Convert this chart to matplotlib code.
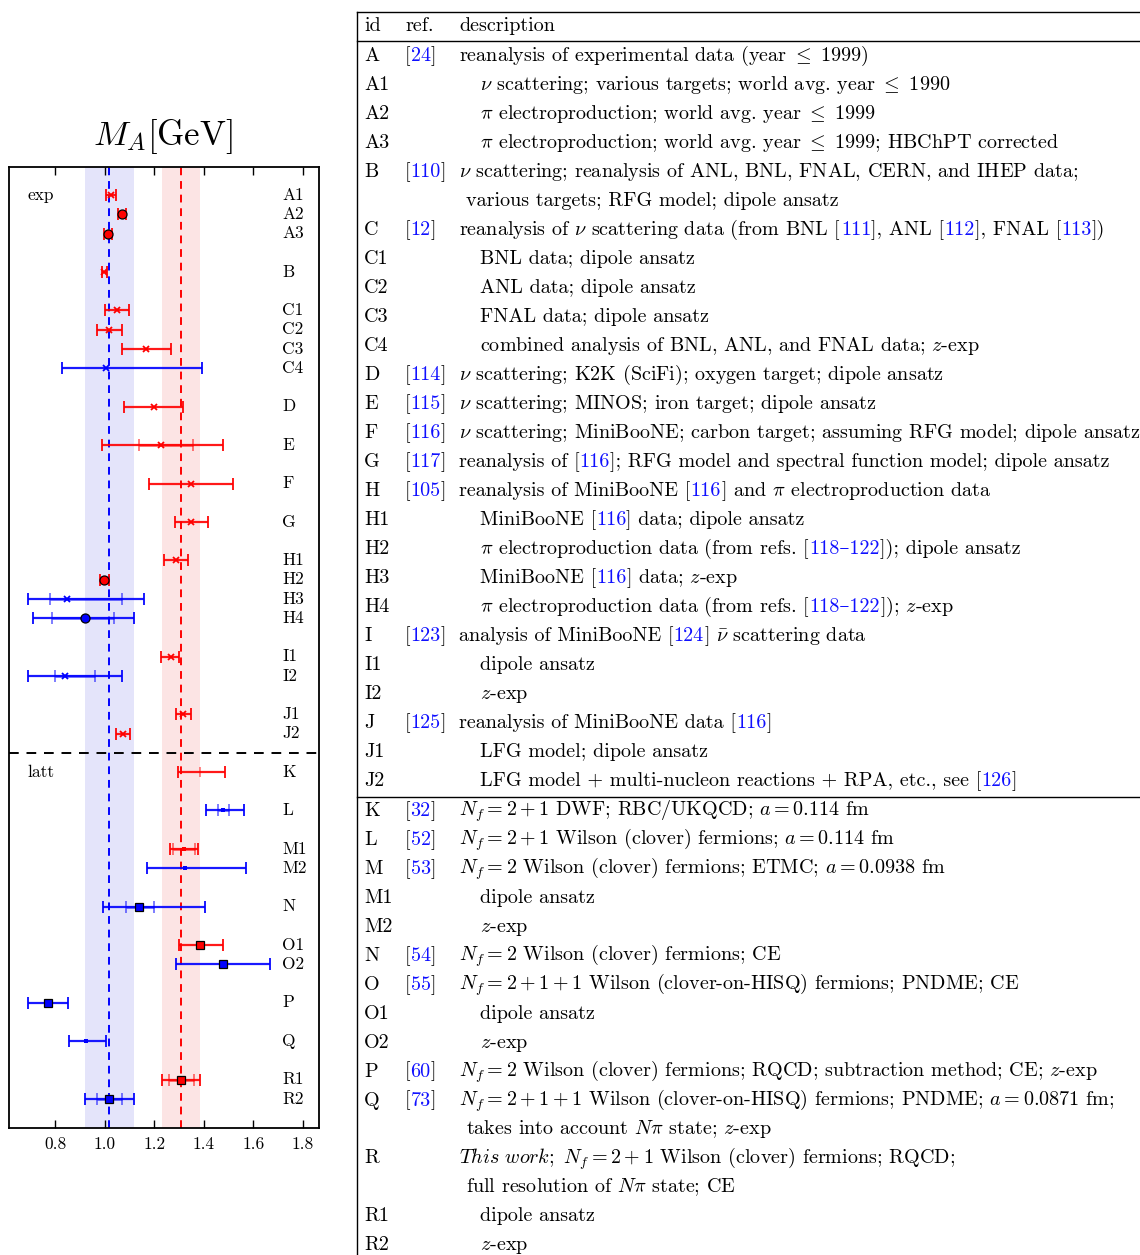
import re
import numpy as np
import matplotlib
matplotlib.use("Agg")
import matplotlib.pyplot as plt
from matplotlib.lines import Line2D

plt.rcParams['font.family'] = ['cmr10', 'DejaVu Serif']
plt.rcParams['mathtext.fontset'] = 'cm'
plt.rcParams['axes.formatter.use_mathtext'] = True

# ---------------- data (left panel) ----------------
pt_labels = ["A1", "A2", "A3", "B", "C1", "C2", "C3", "C4", "D", "E", "F", "G",
             "H1", "H2", "H3", "H4", "I1", "I2", "J1", "J2",
             "K", "L", "M1", "M2", "N", "O1", "O2", "P", "Q", "R1", "R2"]
pt_center = [1.026, 1.069, 1.014, 0.999, 1.049, 1.016, 1.166, 1.007, 1.197, 1.228, 1.347, 1.350,
             1.286, 0.997, 0.849, 0.919, 1.266, 0.839, 1.316, 1.074,
             1.385, 1.478, 1.319, 1.326, 1.138, 1.386, 1.477, 0.770, 0.923, 1.309, 1.017]
pt_lo = [1.005, 1.053, 0.998, 0.988, 1.000, 0.969, 1.070, 0.829, 1.078, 0.989, 1.178, 1.283,
         1.238, 0.980, 0.692, 0.711, 1.228, 0.692, 1.289, 1.047,
         1.297, 1.408, 1.262, 1.169, 0.991, 1.300, 1.288, 0.692, 0.854, 1.232, 0.922]
pt_hi = [1.047, 1.085, 1.030, 1.010, 1.097, 1.070, 1.269, 1.393, 1.316, 1.477, 1.516, 1.415,
         1.338, 1.017, 1.158, 1.119, 1.299, 1.070, 1.350, 1.103,
         1.484, 1.562, 1.378, 1.569, 1.404, 1.476, 1.666, 0.850, 1.004, 1.386, 1.118]
nan = np.nan
pt_stat_lo = [nan, nan, nan, nan, nan, nan, nan, nan, nan, 1.138, nan, nan,
              nan, nan, 0.778, 0.789, nan, 0.799, nan, nan,
              nan, 1.459, 1.277, nan, 1.086, nan, nan, nan, nan, 1.258, 0.969]
pt_stat_hi = [nan, nan, nan, nan, nan, nan, nan, nan, nan, 1.357, nan, nan,
              nan, nan, 1.070, 1.038, nan, 0.961, nan, nan,
              nan, 1.500, 1.364, nan, 1.200, nan, nan, nan, nan, 1.360, 1.069]
pt_color = ["r", "r", "r", "r", "r", "r", "r", "b", "r", "r", "r", "r",
            "r", "r", "b", "b", "r", "b", "r", "r",
            "r", "b", "r", "b", "b", "r", "b", "b", "b", "r", "b"]
pt_marker = ["x", "o", "o", "x", "x", "x", "x", "x", "x", "x", "x", "x",
             "x", "o", "x", "o", "x", "x", "x", "x",
             "|", ".", ".", ".", "s", "s", "s", "s", ".", "s", "s"]
exp_group_sizes = [3, 1, 4, 1, 1, 1, 1, 4, 2, 2]
latt_group_sizes = [1, 1, 2, 1, 2, 1, 1, 2]

band_red = (1.309, 1.232, 1.386)
band_blue = (1.017, 0.922, 1.118)
xticks = [0.8, 1.0, 1.2, 1.4, 1.6, 1.8]

# ---------------- data (table) ----------------
# text between << >> is a (blue) citation number
header = ["id", "ref.", "description"]
tab_ids = ["A", "A1", "A2", "A3", "B", "", "C", "C1", "C2", "C3", "C4", "D", "E", "F", "G",
           "H", "H1", "H2", "H3", "H4", "I", "I1", "I2", "J", "J1", "J2",
           "K", "L", "M", "M1", "M2", "N", "O", "O1", "O2", "P", "Q", "", "R", "", "R1", "R2"]
tab_refs = ["24", "", "", "", "110", "", "12", "", "", "", "", "114", "115", "116", "117",
            "105", "", "", "", "", "123", "", "", "125", "", "",
            "32", "52", "53", "", "", "54", "55", "", "", "60", "73", "", "", "", "", ""]
tab_desc = [
    r"reanalysis of experimental data (year$\ \leq\ $1999)",
    r"$\nu$ scattering; various targets; world avg. year$\ \leq\ $1990",
    r"$\pi$ electroproduction; world avg. year$\ \leq\ $1999",
    r"$\pi$ electroproduction; world avg. year$\ \leq\ $1999; HBChPT corrected",
    r"$\nu$ scattering; reanalysis of ANL, BNL, FNAL, CERN, and IHEP data;",
    r"various targets; RFG model; dipole ansatz",
    r"reanalysis of $\nu$ scattering data (from BNL [<<111>>], ANL [<<112>>], FNAL [<<113>>])",
    r"BNL data; dipole ansatz",
    r"ANL data; dipole ansatz",
    r"FNAL data; dipole ansatz",
    r"combined analysis of BNL, ANL, and FNAL data; $z$-exp",
    r"$\nu$ scattering; K2K (SciFi); oxygen target; dipole ansatz",
    r"$\nu$ scattering; MINOS; iron target; dipole ansatz",
    r"$\nu$ scattering; MiniBooNE; carbon target; assuming RFG model; dipole ansatz",
    r"reanalysis of [<<116>>]; RFG model and spectral function model; dipole ansatz",
    r"reanalysis of MiniBooNE [<<116>>] and $\pi$ electroproduction data",
    r"MiniBooNE [<<116>>] data; dipole ansatz",
    r"$\pi$ electroproduction data (from refs. [<<118–122>>]); dipole ansatz",
    r"MiniBooNE [<<116>>] data; $z$-exp",
    r"$\pi$ electroproduction data (from refs. [<<118–122>>]); $z$-exp",
    r"analysis of MiniBooNE [<<124>>] $\bar{\nu}$ scattering data",
    r"dipole ansatz",
    r"$z$-exp",
    r"reanalysis of MiniBooNE data [<<116>>]",
    r"LFG model; dipole ansatz",
    r"LFG model + multi-nucleon reactions + RPA, etc., see [<<126>>]",
    r"$N_f = 2+1$ DWF; RBC/UKQCD; $a = 0.114$ fm",
    r"$N_f = 2+1$ Wilson (clover) fermions; $a = 0.114$ fm",
    r"$N_f = 2$ Wilson (clover) fermions; ETMC; $a = 0.0938$ fm",
    r"dipole ansatz",
    r"$z$-exp",
    r"$N_f = 2$ Wilson (clover) fermions; CE",
    r"$N_f = 2+1+1$ Wilson (clover-on-HISQ) fermions; PNDME; CE",
    r"dipole ansatz",
    r"$z$-exp",
    r"$N_f = 2$ Wilson (clover) fermions; RQCD; subtraction method; CE; $z$-exp",
    r"$N_f = 2+1+1$ Wilson (clover-on-HISQ) fermions; PNDME; $a = 0.0871$ fm;",
    r"takes into account $N\pi$ state; $z$-exp",
    r"$\mathit{This\ work;}\ N_f = 2+1$ Wilson (clover) fermions; RQCD;",
    r"full resolution of $N\pi$ state; CE",
    r"dipole ansatz",
    r"$z$-exp",
]
# 0 = main line, 1 = sub item, 2 = continuation line
tab_kind = [0, 1, 1, 1, 0, 2, 0, 1, 1, 1, 1, 0, 0, 0, 0,
            0, 1, 1, 1, 1, 0, 1, 1, 0, 1, 1,
            0, 0, 0, 1, 1, 0, 0, 1, 1, 0, 0, 2, 0, 2, 1, 1]
n_exp_rows = 26

# ---------------- figure ----------------
W, H = 1140, 1255
fig = plt.figure(figsize=(W / 100, H / 100), dpi=100)


def fx(x):
    return x / W


def fy(y):
    return 1 - y / H


# ----- left panel -----
ax_l, ax_r, ax_t, ax_b = 9, 319, 167, 1128
ax = fig.add_axes([fx(ax_l), fy(ax_b), (ax_r - ax_l) / W, (ax_b - ax_t) / H])

pos = []
s = 0
for g in exp_group_sizes:
    for k in range(g):
        pos.append(s)
        s += 1
    s += 1
sep_pos = s - 1
for g in latt_group_sizes:
    for k in range(g):
        pos.append(s)
        s += 1
    s += 1
pos = np.array(pos, dtype=float)

ax.axvspan(band_blue[1], band_blue[2], color="#e4e4fa", lw=0, zorder=0)
ax.axvspan(band_red[1], band_red[2], color="#fce4e4", lw=0, zorder=0)
ax.axvline(band_blue[0], color="blue", ls=(0, (4, 3)), lw=1.4, zorder=1)
ax.axvline(band_red[0], color="red", ls=(0, (4, 3)), lw=1.4, zorder=1)
ax.axhline(sep_pos, color="black", ls=(0, (5, 4)), lw=1.4, zorder=1)

cmap = {"r": "#ff0000", "b": "#0000ff"}
for i in range(len(pt_labels)):
    c = cmap[pt_color[i]]
    y = pos[i]
    xc = pt_center[i]
    ax.errorbar([xc], [y], xerr=[[xc - pt_lo[i]], [pt_hi[i] - xc]], fmt="none",
                ecolor=c, elinewidth=1.6, capsize=4, capthick=1.4, alpha=0.9, zorder=3)
    if not np.isnan(pt_stat_lo[i]):
        ax.errorbar([xc], [y], xerr=[[xc - pt_stat_lo[i]], [pt_stat_hi[i] - xc]], fmt="none",
                    ecolor=c, elinewidth=2.0, capsize=4, capthick=1.3, alpha=0.55, zorder=3)
    m = pt_marker[i]
    if m == "x":
        ax.plot([xc], [y], marker="x", ms=5, mew=1.3, color=c, ls="none", zorder=4)
    elif m == "o":
        ax.plot([xc], [y], marker="o", ms=6.5, mfc=c, mec="black", mew=0.9, ls="none", zorder=4)
    elif m == "s":
        ax.plot([xc], [y], marker="s", ms=6, mfc=c, mec="black", mew=0.9, ls="none", zorder=4)
    elif m == ".":
        ax.plot([xc], [y], marker="s", ms=3, mfc=c, mec=c, mew=0, ls="none", zorder=4)
    elif m == "|":
        ax.plot([xc], [y], marker="|", ms=7, mew=1.3, color=c, alpha=0.5, ls="none", zorder=4)
    ax.text(0.881, y, pt_labels[i], transform=ax.get_yaxis_transform(), ha="left",
            va="center", fontsize=12.5)

ax.text(0.061, pos[0], "exp", transform=ax.get_yaxis_transform(), ha="left", va="center",
        fontsize=12.5)
ax.text(0.061, pos[pt_labels.index("K")], "latt", transform=ax.get_yaxis_transform(),
        ha="left", va="center", fontsize=12.5)

ax.set_xlim(0.6135, 1.865)
ax.set_ylim(pos[-1] + (ax_b - 1099) / 19.2, pos[0] - (195 - ax_t) / 19.2)
ax.set_xticks(xticks)
ax.set_xticklabels([f"{v:.1f}" for v in xticks])
ax.set_yticks([])
ax.tick_params(axis="x", direction="in", top=True, bottom=True, length=6, width=1,
               labelsize=12.5, pad=6)
for sp in ax.spines.values():
    sp.set_linewidth(1.3)

fig.text(fx(163), fy(137), r"$M_A$[GeV]", fontsize=25, ha="center", va="center")

# ----- table -----
renderer = fig.canvas.get_renderer()
FS = 14.5
BLUE = "#1010ff"


def draw_rich(x, y, s, fs=FS):
    parts = re.split(r"(<<.*?>>)", s)
    for p in parts:
        if not p:
            continue
        if p.startswith("<<"):
            txt, col = p[2:-2], BLUE
        else:
            txt, col = p, "black"
        t = fig.text(fx(x), fy(y), txt, fontsize=fs, color=col, ha="left", va="baseline")
        bb = t.get_window_extent(renderer=renderer)
        x += bb.width


tl = 357
base_off = 5
x_id, x_ref, x_desc, x_sub, x_cont = 364, 405, 459, 480, 466

fig.add_artist(Line2D([fx(tl), fx(tl)], [fy(12), fy(1255)], color="black", lw=1.0))
fig.add_artist(Line2D([fx(tl), 1], [fy(12), fy(12)], color="black", lw=1.0))
fig.add_artist(Line2D([fx(tl), 1], [fy(41), fy(41)], color="black", lw=1.0))
fig.add_artist(Line2D([fx(tl), 1], [fy(797), fy(797)], color="black", lw=1.0))

draw_rich(x_id, 26 + base_off, header[0])
draw_rich(x_ref, 26 + base_off, header[1])
draw_rich(x_desc, 26 + base_off, header[2])

for i in range(len(tab_ids)):
    if i < n_exp_rows:
        yc = 56 + i * 29
    else:
        yc = 811 + (i - n_exp_rows) * 28.95
    yb = yc + base_off
    if tab_ids[i]:
        draw_rich(x_id, yb, tab_ids[i])
    if tab_refs[i]:
        draw_rich(x_ref, yb, "[<<" + tab_refs[i] + ">>]")
    xd = {0: x_desc, 1: x_sub, 2: x_cont}[tab_kind[i]]
    draw_rich(xd, yb, tab_desc[i])

fig.savefig("out.png", dpi=100)
